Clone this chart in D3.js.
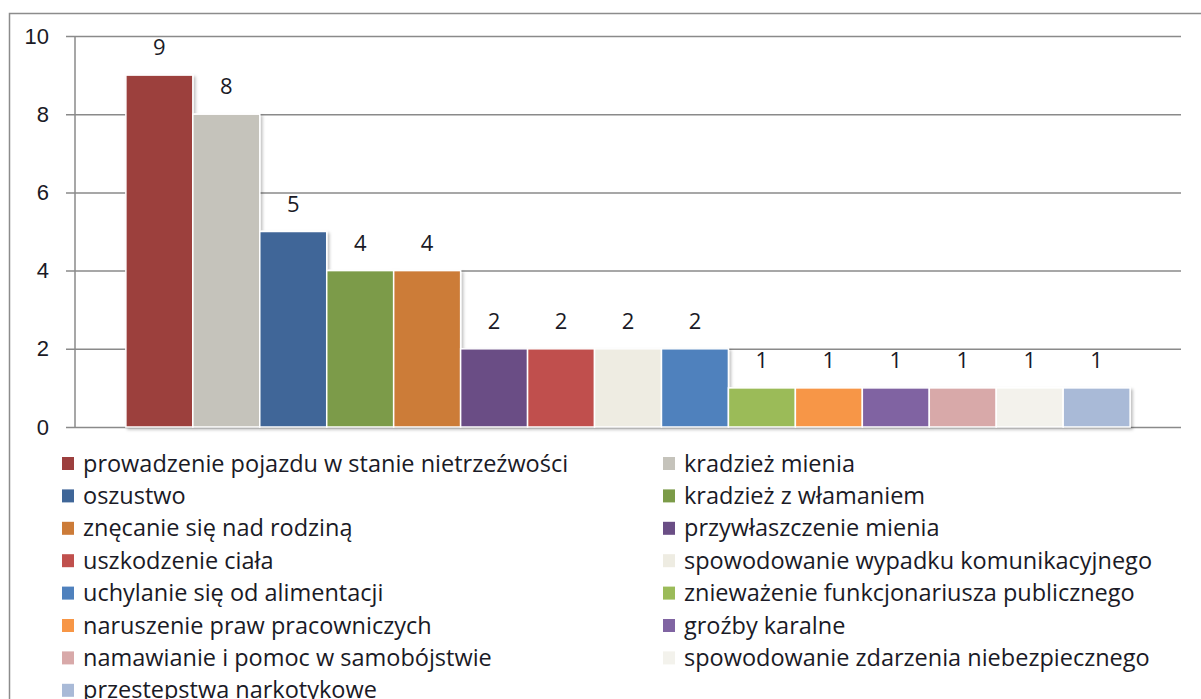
<!DOCTYPE html>
<html>
<head>
<meta charset="utf-8">
<script src="https://cdn.jsdelivr.net/npm/d3@7"></script>
<style>
  body { margin: 0; background: #fff; }
  svg { display: block; font-family: "Open Sans", Lato, sans-serif; }
</style>
</head>
<body>
<svg id="chart"></svg>
<script>
var width = 1201, height = 699;
var margin = ({top: 36, right: 20, bottom: 272, left: 75});

// data
var categories = [
  "prowadzenie pojazdu w stanie nietrzeźwości",
  "kradzież mienia",
  "oszustwo",
  "kradzież z włamaniem",
  "znęcanie się nad rodziną",
  "przywłaszczenie mienia",
  "uszkodzenie ciała",
  "spowodowanie wypadku komunikacyjnego",
  "uchylanie się od alimentacji",
  "znieważenie funkcjonariusza publicznego",
  "naruszenie praw pracowniczych",
  "groźby karalne",
  "namawianie i pomoc w samobójstwie",
  "spowodowanie zdarzenia niebezpiecznego",
  "przestepstwa narkotykowe"
];
var values = [9, 8, 5, 4, 4, 2, 2, 2, 2, 1, 1, 1, 1, 1, 1];
var colors = ["#9c3f3e", "#c5c3bb", "#3f6698", "#7b9b48", "#cc7b38", "#6a4e85", "#c0504d",
              "#eeece2", "#4f81bd", "#9bbb59", "#f79646", "#8064a2", "#d8a9a9", "#f3f2ec", "#a9bad7"];
var yTicks = [0, 2, 4, 6, 8, 10];

var svg = d3.select("#chart")
  .attr("width", width)
  .attr("height", height);

// outer frame (runs off the right and bottom)
svg.append("rect")
  .attr("x", 9.5).attr("y", 13.5)
  .attr("width", 1220).attr("height", 720)
  .attr("fill", "none")
  .attr("stroke", "#8c8c8c")
  .attr("stroke-width", 1.5);

var x = d3.scaleBand()
  .domain(categories)
  .range([margin.left, 1181])
  .paddingInner(0)
  .paddingOuter(0.76);

var y = d3.scaleLinear()
  .domain([0, 10])
  .range([427, margin.top]);

var defs = svg.append("defs");
var f = defs.append("filter").attr("id", "shadow")
  .attr("x", "-10%").attr("y", "-10%").attr("width", "130%").attr("height", "130%");
f.append("feDropShadow")
  .attr("dx", 2).attr("dy", 2).attr("stdDeviation", 1.5)
  .attr("flood-color", "#000").attr("flood-opacity", 0.25);

// gridlines + y axis
var yAxis = d3.axisLeft(y)
  .tickValues(yTicks)
  .tickSize(-(1181 - margin.left))
  .tickSizeOuter(0)
  .tickPadding(26);

var gy = svg.append("g")
  .attr("transform", "translate(" + margin.left + ",0)")
  .call(yAxis);
gy.select(".domain").remove();
gy.selectAll(".tick line")
  .attr("x1", -9)
  .attr("stroke", "#8a8a8a")
  .attr("stroke-width", 1.5);
gy.selectAll(".tick text")
  .attr("fill", "#1a1a26")
  .style("font-size", "22px");

svg.append("line")
  .attr("x1", margin.left).attr("x2", margin.left)
  .attr("y1", y(10)).attr("y2", y(0))
  .attr("stroke", "#8a8a8a")
  .attr("stroke-width", 1.5);

// bars
var bars = svg.append("g").attr("filter", "url(#shadow)");
bars.selectAll("rect")
  .data(categories)
  .join("rect")
  .attr("x", d => x(d))
  .attr("y", (d, i) => y(values[i]))
  .attr("width", x.bandwidth())
  .attr("height", (d, i) => y(0) - y(values[i]))
  .attr("fill", (d, i) => colors[i])
  .attr("stroke", "#fff")
  .attr("stroke-width", 1.5);

// value labels
svg.append("g").selectAll("text")
  .data(categories)
  .join("text")
  .attr("x", d => x(d) + x.bandwidth() / 2)
  .attr("y", (d, i) => y(values[i]) - 20)
  .attr("text-anchor", "middle")
  .attr("fill", "#1a1a26")
  .style("font-size", "22px")
  .text((d, i) => values[i]);

// legend, two columns, row-major
var colX = [62, 663];
var legend = svg.append("g").selectAll("g")
  .data(categories)
  .join("g")
  .attr("transform", (d, i) => "translate(" + colX[i % 2] + "," + (463.5 + Math.floor(i / 2) * 32.4) + ")");

legend.append("rect")
  .attr("x", 0).attr("y", -6.5)
  .attr("width", 12).attr("height", 13)
  .attr("fill", (d, i) => colors[i]);

legend.append("text")
  .attr("x", (d, i) => i % 2 ? 21 : 21)
  .attr("y", 8)
  .attr("fill", "#1a1a26")
  .style("font-size", "23.5px")
  .text(d => d);
</script>
</body>
</html>
